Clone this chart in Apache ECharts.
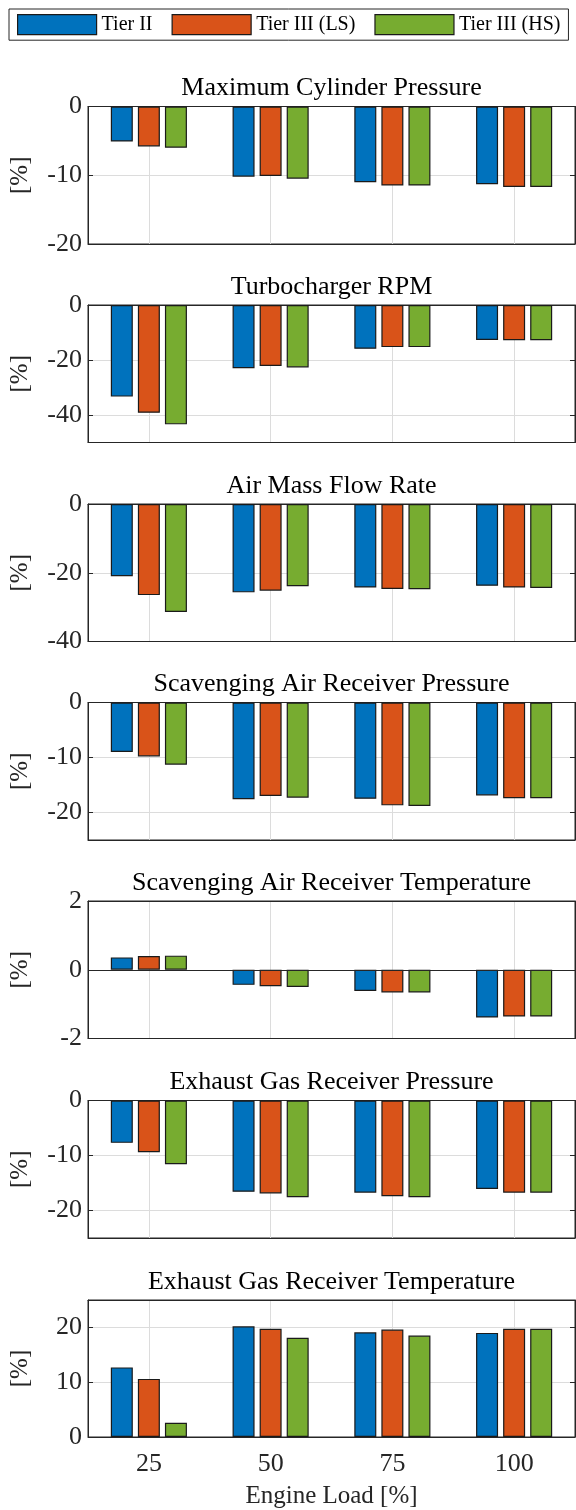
<!DOCTYPE html>
<html>
<head>
<meta charset="utf-8">
<script src="https://cdn.jsdelivr.net/npm/echarts@6.0.0/dist/echarts.min.js"></script>
<style>
  html, body { margin: 0; padding: 0; background: #fff; }
  #chart { width: 576px; height: 1510px; }
</style>
</head>
<body>
<div id="chart"></div>
<script>
// engine load categories and series
const loads = ['25', '50', '75', '100'];
const seriesNames = ['Tier II', 'Tier III (LS)', 'Tier III (HS)'];
const colors = ['#0072BD', '#D95319', '#77AC30'];

const panelTitles = [
  'Maximum Cylinder Pressure',
  'Turbocharger RPM',
  'Air Mass Flow Rate',
  'Scavenging Air Receiver Pressure',
  'Scavenging Air Receiver Temperature',
  'Exhaust Gas Receiver Pressure',
  'Exhaust Gas Receiver Temperature'
];

// y ranges and tick labels per panel
const yMin = [-20, -50, -40, -25, -2, -25, 0];
const yMax = [0, 0, 0, 0, 2, 0, 25];
const yTicks = [
  [-20, -10, 0],
  [-40, -20, 0],
  [-40, -20, 0],
  [-20, -10, 0],
  [-2, 0, 2],
  [-20, -10, 0],
  [0, 10, 20]
];

// values [%] per panel: rows = Tier II, Tier III (LS), Tier III (HS)
const maxCylPressure = [
  [-5.1, -10.2, -11.0, -11.3],
  [-5.8, -10.1, -11.5, -11.7],
  [-6.0, -10.5, -11.5, -11.7]
];
const turboRpm = [
  [-33.3, -23.0, -15.9, -12.7],
  [-39.2, -22.2, -15.3, -12.8],
  [-43.4, -22.7, -15.3, -12.8]
];
const airMassFlow = [
  [-21.0, -25.7, -24.3, -23.8],
  [-26.5, -25.2, -24.7, -24.3],
  [-31.4, -23.9, -24.8, -24.4]
];
const scavPressure = [
  [-9.0, -17.6, -17.5, -16.9],
  [-9.8, -17.0, -18.7, -17.4],
  [-11.3, -17.3, -18.8, -17.4]
];
const scavTemp = [
  [0.36, -0.44, -0.62, -1.39],
  [0.40, -0.48, -0.66, -1.36],
  [0.41, -0.50, -0.66, -1.36]
];
const exhPressure = [
  [-7.7, -16.6, -16.75, -16.1],
  [-9.4, -16.9, -17.4, -16.75],
  [-11.6, -17.6, -17.6, -16.75]
];
const exhTemp = [
  [12.7, 20.2, 19.1, 19.0],
  [10.6, 19.75, 19.6, 19.75],
  [2.6, 18.1, 18.5, 19.75]
];

const panelData = [maxCylPressure, turboRpm, airMassFlow, scavPressure, scavTemp, exhPressure, exhTemp];

const font = '"Liberation Serif", "Times New Roman", serif';
const axisColor = '#262626';
const gridColor = '#dcdcdc';
const gridTop = [106.5, 305, 504, 702.5, 901, 1100.5, 1300];
const plotH = 137.5;
const plotLeft = 88;
const plotRight = 575;

const chart = echarts.init(document.getElementById('chart'), null, { renderer: 'canvas' });

const grids = [];
const xAxes = [];
const yAxes = [];
const series = [];
const graphics = [];

gridTop.forEach((top, i) => {
  grids.push({
    left: plotLeft, right: 576 - plotRight, top: top, height: plotH,
    show: true, borderColor: axisColor, borderWidth: 1, backgroundColor: '#fff'
  });

  const last = i === gridTop.length - 1;
  xAxes.push({
    type: 'category', gridIndex: i, data: loads, position: 'bottom',
    axisLine: { onZero: false, lineStyle: { color: axisColor } },
    axisTick: { inside: true, alignWithLabel: true, length: 5, lineStyle: { color: axisColor } },
    axisLabel: { show: last, margin: 14, fontSize: 26, fontFamily: font, color: axisColor },
    splitLine: { show: true, alignWithLabel: true, lineStyle: { color: gridColor } },
    name: last ? 'Engine Load [%]' : '',
    nameLocation: 'middle', nameGap: 47,
    nameTextStyle: { fontSize: 25, fontFamily: font, color: axisColor }
  });
  xAxes.push({
    type: 'category', gridIndex: i, data: loads, position: 'top',
    axisLine: { onZero: false, lineStyle: { color: axisColor } },
    axisTick: { inside: true, alignWithLabel: true, length: 5, lineStyle: { color: axisColor } },
    axisLabel: { show: false },
    splitLine: { show: false }
  });

  yAxes.push({
    type: 'value', gridIndex: i, min: yMin[i], max: yMax[i], position: 'left',
    axisLine: { show: true, lineStyle: { color: axisColor } },
    axisTick: { show: true, inside: true, length: 5, customValues: yTicks[i], lineStyle: { color: axisColor } },
    axisLabel: { customValues: yTicks[i], margin: 6, fontSize: 26, fontFamily: font, color: axisColor },
    splitLine: { show: true, lineStyle: { color: gridColor } },
    name: '[%]', nameLocation: 'middle', nameGap: 55, nameRotate: 90,
    nameTextStyle: { fontSize: 25, fontFamily: font, color: axisColor }
  });
  yAxes.push({
    type: 'value', gridIndex: i, min: yMin[i], max: yMax[i], position: 'right',
    axisLine: { show: true, lineStyle: { color: axisColor } },
    axisTick: { show: true, inside: true, length: 5, customValues: yTicks[i], lineStyle: { color: axisColor } },
    axisLabel: { show: false },
    splitLine: { show: false }
  });

  panelData[i].forEach((vals, s) => {
    const item = {
      type: 'bar', name: seriesNames[s],
      xAxisIndex: 2 * i, yAxisIndex: 2 * i,
      data: vals, barWidth: 22, barGap: '23%',
      itemStyle: { color: colors[s], borderColor: '#1a1a1a', borderWidth: 1.2 },
      emphasis: { disabled: true }
    };
    // zero baseline for the panel that crosses zero
    if (s === 0 && yMin[i] < 0 && yMax[i] > 0) {
      item.markLine = {
        silent: true, symbol: 'none', label: { show: false },
        lineStyle: { color: axisColor, type: 'solid', width: 1 },
        data: [{ yAxis: 0 }]
      };
    }
    series.push(item);
  });

  graphics.push({
    type: 'text', x: (plotLeft + plotRight) / 2, y: top - 18,
    style: {
      text: panelTitles[i], fill: '#000', font: '26px ' + font,
      textAlign: 'center', textVerticalAlign: 'middle'
    }
  });
});

const option = {
  animation: false,
  legend: {
    data: seriesNames,
    left: 9, top: 9, width: 566,
    padding: [5, 8, 5, 8],
    itemWidth: 79, itemHeight: 20, itemGap: 19,
    icon: 'rect',
    borderColor: axisColor, borderWidth: 1,
    itemStyle: { borderColor: '#1a1a1a', borderWidth: 1.2 },
    textStyle: { fontSize: 20, fontFamily: font, color: '#000' },
    selectedMode: false
  },
  grid: grids,
  xAxis: xAxes,
  yAxis: yAxes,
  series: series,
  graphic: graphics
};

chart.setOption(option);
</script>
</body>
</html>
